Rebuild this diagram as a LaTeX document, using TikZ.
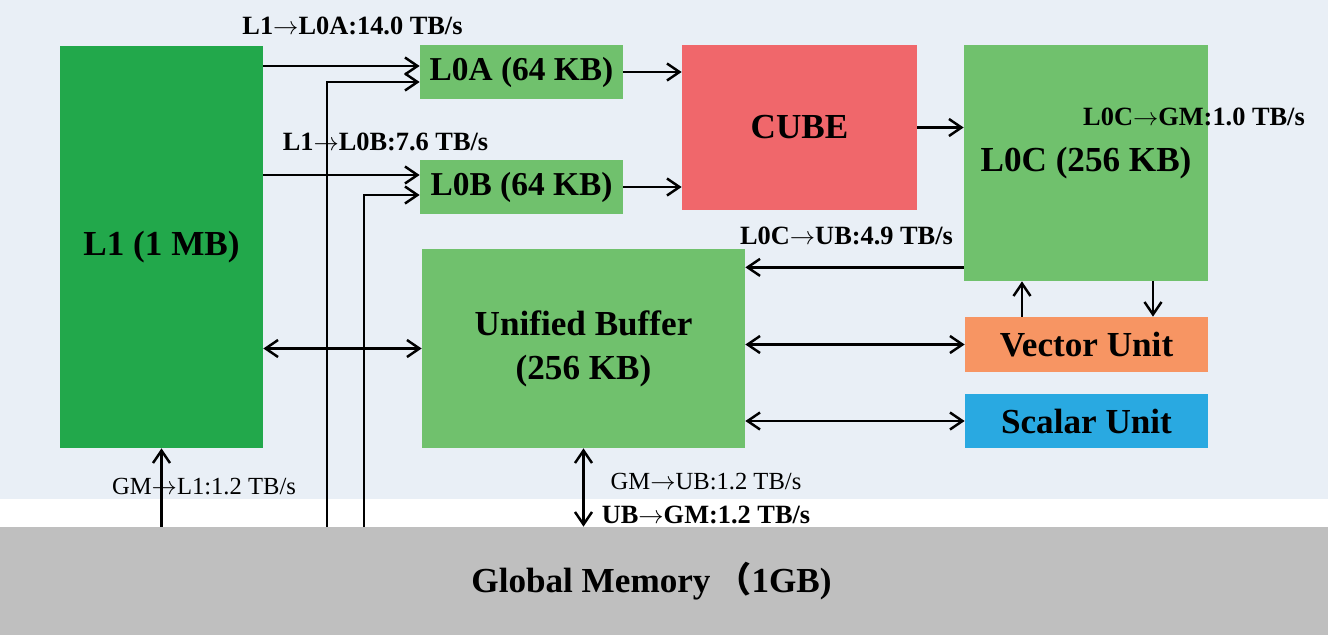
\documentclass[tikz,border=0pt]{standalone}
\usepackage{fontspec}
\setmainfont{Liberation Serif}
\newfontfamily\cjkfont{Noto Sans CJK SC}
\usetikzlibrary{arrows.meta}
\definecolor{bgblue}{RGB}{233,239,246}
\definecolor{lonegreen}{RGB}{34,168,75}
\definecolor{boxgreen}{RGB}{112,193,109}
\definecolor{cubered}{RGB}{240,103,107}
\definecolor{vecorange}{RGB}{247,149,99}
\definecolor{scalblue}{RGB}{41,169,225}
\definecolor{gmgray}{RGB}{191,191,191}
\newcommand{\tto}{$\rightarrow$}

\begin{document}
\begin{tikzpicture}[
  blk/.style={rectangle, inner sep=0pt, align=center, font=\bfseries\fontsize{20}{25}\selectfont},
  lbl/.style={inner sep=0pt, font=\bfseries\fontsize{15}{18}\selectfont},
  lblr/.style={inner sep=0pt, font=\fontsize{14}{17}\selectfont},
  arr/.style={-{Straight Barb[length=2.5mm,width=3.4mm]}, line width=1.4pt},
  darr/.style={{Straight Barb[length=2.5mm,width=3.4mm]}-{Straight Barb[length=2.5mm,width=3.4mm]}, line width=1.4pt}
]
\useasboundingbox (0,0) rectangle (26.56,-12.7);
\fill[bgblue] (0,0) rectangle (26.56,-9.98);
\node[blk, fill=gmgray, minimum width=26.56cm, minimum height=2.16cm] (gm) at (13.28,-11.62) {\hspace*{-0.5cm}Global Memory\,{\cjkfont （}1GB)};
\node[blk, fill=lonegreen, minimum width=4.06cm, minimum height=8.04cm] (l1) at (3.23,-4.94) {L1 (1 MB)};
\node[blk, fill=boxgreen, minimum width=4.06cm, minimum height=1.08cm, font=\bfseries\fontsize{19}{24}\selectfont] (l0a) at (10.43,-1.44) {L0A (64 KB)};
\node[blk, fill=boxgreen, minimum width=4.06cm, minimum height=1.08cm, font=\bfseries\fontsize{19}{24}\selectfont] (l0b) at (10.43,-3.74) {L0B (64 KB)};
\node[blk, fill=cubered, minimum width=4.70cm, minimum height=3.30cm] (cube) at (15.99,-2.55) {CUBE};
\node[blk, fill=boxgreen, minimum width=4.88cm, minimum height=4.72cm] (l0c) at (21.72,-3.26) {L0C (256 KB)};
\node[blk, fill=boxgreen, minimum width=6.46cm, minimum height=3.98cm] (ub) at (11.67,-6.97) {Unified Buffer\\(256 KB)};
\node[blk, fill=vecorange, minimum width=4.86cm, minimum height=1.10cm] (vec) at (21.73,-6.89) {Vector Unit};
\node[blk, fill=scalblue, minimum width=4.86cm, minimum height=1.08cm] (scal) at (21.73,-8.42) {Scalar Unit};

\node[lbl] (t1) at (7.05,-0.52) {L1\tto L0A:14.0 TB/s};
\node[lbl] (t2) at (7.71,-2.84) {L1\tto L0B:7.6 TB/s};
\node[lbl] (t3) at (16.93,-4.72) {L0C\tto UB:4.9 TB/s};
\node[lbl] (t4) at (23.88,-2.34) {L0C\tto GM:1.0 TB/s};
\node[lblr] (t5) at (4.08,-9.74) {GM\tto L1:1.2 TB/s};
\node[lblr] (t6) at (14.12,-9.64) {GM\tto UB:1.2 TB/s};
\node[lbl] (t7) at (14.12,-10.30) {UB\tto GM:1.2 TB/s};

\coordinate (a0) at ([yshift=0.12cm]l0a.west);
\coordinate (a1) at ([yshift=-0.2cm]l0a.west);
\coordinate (b0) at ([yshift=0.24cm]l0b.west);
\coordinate (b1) at ([yshift=-0.16cm]l0b.west);
\coordinate (ga) at (6.54,-10.54);
\coordinate (gb) at (7.28,-10.54);
\coordinate (c0) at ([yshift=0.28cm]l0c.south west);
\coordinate (v0) at ([xshift=-1.29cm]vec.north);
\coordinate (v1) at ([xshift=1.33cm]vec.north);
\draw[arr] (a0 -| l1.east) -- (a0);
\draw[arr] (b0 -| l1.east) -- (b0);
\draw[arr] (ga) |- (a1);
\draw[arr] (gb) |- (b1);
\draw[arr] (l0a.east) -- (l0a.east -| cube.west);
\draw[arr] (l0b.east) -- (l0b.east -| cube.west);
\draw[arr] (cube.east) -- (cube.east -| l0c.west);
\draw[arr] (c0) -- (c0 -| ub.east);
\draw[darr] (ub.west -| l1.east) -- (ub.west);
\draw[darr] (vec.west -| ub.east) -- (vec.west);
\draw[darr] (scal.west -| ub.east) -- (scal.west);
\draw[arr] (v0) -- (v0 |- l0c.south);
\draw[arr] (v1 |- l0c.south) -- (v1);
\draw[arr] (gm.north -| l1.south) -- (l1.south);
\draw[darr] (ub.south) -- (ub.south |- gm.north);
\end{tikzpicture}
\end{document}
